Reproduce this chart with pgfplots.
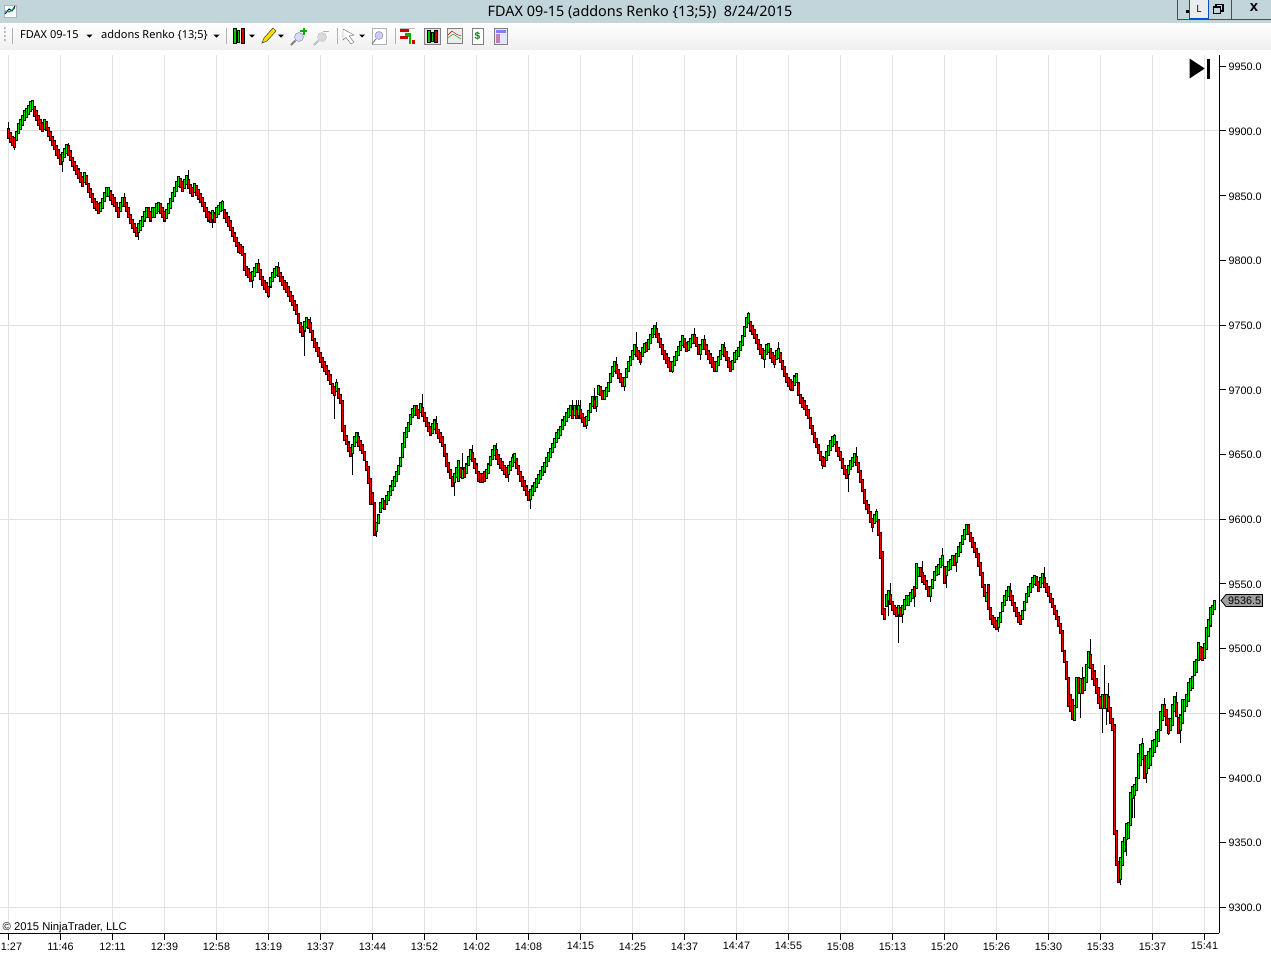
\documentclass[border=0pt]{standalone}
\usepackage{pgfplots}
\usepackage{pgfplotstable}
\usepackage{fontspec}
\pgfplotsset{compat=1.18}
\setmainfont{Liberation Sans}
\newfontfamily\uifont{Noto Sans}
\definecolor{barup}{HTML}{00E400}
\definecolor{bardown}{HTML}{F40000}
\definecolor{gridc}{HTML}{E2E2E2}
\definecolor{titlebar}{HTML}{C2D5DB}
\pgfplotstableread{
i o c
0 9901 9895
1 9898 9892
2 9895 9889
3 9894 9888
4 9893 9899
5 9899 9905
6 9902 9908
7 9905 9911
8 9909 9915
9 9911 9917
10 9913 9919
11 9916 9922
12 9917 9923
13 9918 9912
14 9915 9909
15 9911 9905
16 9908 9902
17 9906 9900
18 9902 9908
19 9907 9901
20 9902 9896
21 9899 9893
22 9895 9889
23 9892 9886
24 9888 9882
25 9885 9879
26 9881 9875
27 9877 9883
28 9880 9886
29 9883 9889
30 9888 9882
31 9884 9878
32 9879 9873
33 9876 9870
34 9873 9867
35 9870 9864
36 9867 9861
37 9864 9858
38 9861 9867
39 9865 9859
40 9859 9853
41 9855 9849
42 9851 9845
43 9847 9841
44 9845 9839
45 9843 9837
46 9838 9844
47 9841 9847
48 9846 9852
49 9850 9856
50 9850 9856
51 9853 9847
52 9850 9844
53 9848 9842
54 9844 9838
55 9840 9834
56 9838 9844
57 9842 9848
58 9848 9842
59 9844 9838
60 9840 9834
61 9835 9829
62 9831 9825
63 9828 9822
64 9825 9819
65 9822 9828
66 9824 9830
67 9827 9833
68 9831 9837
69 9834 9840
70 9840 9834
71 9837 9831
72 9834 9840
73 9834 9840
74 9837 9843
75 9838 9844
76 9843 9837
77 9840 9834
78 9837 9831
79 9833 9839
80 9837 9843
81 9841 9847
82 9846 9852
83 9850 9856
84 9854 9860
85 9858 9864
86 9863 9857
87 9860 9854
88 9856 9862
89 9859 9865
90 9862 9856
91 9858 9852
92 9856 9850
93 9853 9859
94 9857 9851
95 9854 9848
96 9851 9845
97 9848 9842
98 9844 9838
99 9840 9834
100 9837 9831
101 9836 9830
102 9832 9838
103 9836 9830
104 9834 9840
105 9836 9842
106 9838 9844
107 9839 9845
108 9839 9833
109 9836 9830
110 9833 9827
111 9830 9824
112 9825 9819
113 9821 9815
114 9817 9811
115 9813 9807
116 9812 9806
117 9810 9804
118 9805 9793
119 9795 9789
120 9793 9787
121 9790 9784
122 9785 9791
123 9788 9794
124 9791 9797
125 9797 9791
126 9792 9786
127 9787 9781
128 9784 9778
129 9782 9776
130 9779 9773
131 9780 9786
132 9784 9790
133 9787 9793
134 9789 9795
135 9794 9788
136 9790 9784
137 9787 9781
138 9784 9778
139 9782 9776
140 9779 9773
141 9775 9769
142 9772 9766
143 9768 9762
144 9765 9759
145 9758 9752
146 9751 9745
147 9748 9742
148 9746 9752
149 9749 9755
150 9754 9748
151 9751 9745
152 9745 9739
153 9739 9733
154 9736 9730
155 9732 9726
156 9728 9722
157 9724 9718
158 9721 9715
159 9718 9712
160 9714 9708
161 9711 9705
162 9704 9698
163 9702 9696
164 9699 9705
165 9700 9694
166 9696 9690
167 9691 9668
168 9672 9661
169 9664 9658
170 9659 9653
171 9655 9649
172 9651 9657
173 9657 9663
174 9660 9666
175 9663 9657
176 9660 9654
177 9657 9651
178 9652 9646
179 9644 9638
180 9640 9628
181 9631 9612
182 9620 9612
183 9612 9588
184 9591 9597
185 9597 9603
186 9606 9612
187 9609 9615
188 9614 9608
189 9612 9618
190 9615 9621
191 9619 9625
192 9623 9629
193 9626 9632
194 9630 9636
195 9635 9641
196 9641 9647
197 9648 9658
198 9656 9666
199 9664 9670
200 9668 9674
201 9674 9680
202 9679 9685
203 9681 9687
204 9687 9681
205 9684 9678
206 9683 9689
207 9686 9680
208 9682 9676
209 9678 9672
210 9674 9668
211 9671 9665
212 9667 9673
213 9670 9676
214 9673 9667
215 9669 9663
216 9666 9660
217 9663 9657
218 9657 9649
219 9650 9641
220 9643 9637
221 9638 9632
222 9632 9626
223 9629 9635
224 9633 9639
225 9630 9645
226 9639 9633
227 9632 9638
228 9639 9633
229 9636 9642
230 9642 9648
231 9647 9653
232 9651 9645
233 9646 9640
234 9642 9636
235 9636 9630
236 9635 9629
237 9635 9629
238 9636 9630
239 9632 9638
240 9636 9642
241 9642 9648
242 9647 9653
243 9650 9656
244 9653 9647
245 9649 9643
246 9646 9640
247 9644 9638
248 9641 9635
249 9639 9633
250 9635 9641
251 9638 9644
252 9641 9647
253 9644 9650
254 9646 9640
255 9641 9635
256 9636 9630
257 9632 9626
258 9629 9623
259 9625 9619
260 9621 9615
261 9616 9622
262 9619 9625
263 9622 9628
264 9625 9631
265 9628 9634
266 9631 9637
267 9634 9640
268 9637 9643
269 9641 9647
270 9645 9651
271 9648 9654
272 9652 9658
273 9656 9662
274 9660 9666
275 9663 9669
276 9665 9671
277 9670 9676
278 9673 9679
279 9676 9682
280 9679 9685
281 9681 9687
282 9684 9678
283 9681 9687
284 9684 9678
285 9681 9687
286 9684 9678
287 9681 9675
288 9678 9672
289 9673 9679
290 9677 9683
291 9683 9689
292 9688 9694
293 9692 9686
294 9688 9694
295 9697 9703
296 9702 9696
297 9699 9693
298 9693 9699
299 9695 9701
300 9699 9705
301 9706 9712
302 9711 9717
303 9715 9721
304 9719 9713
305 9715 9709
306 9712 9706
307 9709 9703
308 9703 9709
309 9710 9716
310 9715 9721
311 9719 9725
312 9724 9730
313 9728 9734
314 9732 9726
315 9730 9724
316 9728 9722
317 9726 9732
318 9729 9735
319 9736 9730
320 9732 9738
321 9736 9742
322 9741 9747
323 9743 9749
324 9747 9741
325 9743 9737
326 9739 9733
327 9734 9728
328 9730 9724
329 9727 9721
330 9724 9718
331 9721 9715
332 9715 9721
333 9719 9725
334 9723 9729
335 9727 9733
336 9731 9737
337 9735 9741
338 9739 9733
339 9736 9730
340 9731 9737
341 9733 9739
342 9736 9742
343 9742 9736
344 9740 9734
345 9734 9728
346 9728 9734
347 9732 9738
348 9738 9732
349 9734 9728
350 9730 9724
351 9727 9721
352 9724 9718
353 9721 9715
354 9715 9721
355 9719 9725
356 9724 9730
357 9728 9734
358 9732 9726
359 9729 9723
360 9724 9718
361 9721 9715
362 9716 9722
363 9722 9728
364 9724 9730
365 9726 9732
366 9731 9737
367 9735 9741
368 9742 9748
369 9749 9755
370 9752 9758
371 9752 9746
372 9749 9743
373 9746 9740
374 9742 9736
375 9738 9732
376 9734 9728
377 9731 9725
378 9724 9730
379 9728 9734
380 9729 9735
381 9731 9725
382 9728 9722
383 9726 9720
384 9724 9730
385 9725 9731
386 9728 9722
387 9722 9716
388 9717 9711
389 9712 9706
390 9709 9703
391 9707 9701
392 9706 9700
393 9704 9710
394 9706 9712
395 9705 9696
396 9696 9690
397 9693 9687
398 9691 9685
399 9687 9681
400 9684 9678
401 9678 9671
402 9672 9666
403 9666 9660
404 9662 9656
405 9657 9651
406 9652 9646
407 9648 9642
408 9647 9641
409 9646 9652
410 9650 9656
411 9654 9660
412 9657 9663
413 9658 9664
414 9659 9653
415 9655 9649
416 9652 9646
417 9646 9640
418 9641 9635
419 9638 9632
420 9635 9641
421 9639 9645
422 9641 9647
423 9644 9650
424 9648 9642
425 9643 9637
426 9637 9629
427 9630 9622
428 9622 9613
429 9614 9608
430 9611 9605
431 9605 9598
432 9600 9594
433 9597 9603
434 9599 9605
435 9599 9588
436 9589 9570
437 9574 9527
438 9530 9523
439 9533 9541
440 9538 9544
441 9541 9535
442 9536 9530
443 9533 9527
444 9531 9525
445 9527 9533
446 9531 9525
447 9527 9533
448 9531 9537
449 9534 9540
450 9534 9540
451 9537 9543
452 9539 9545
453 9547 9541
454 9547 9565
455 9556 9562
456 9562 9556
457 9558 9552
458 9556 9550
459 9552 9546
460 9547 9541
461 9541 9547
462 9547 9553
463 9553 9559
464 9557 9563
465 9558 9564
466 9563 9569
467 9565 9571
468 9563 9551
469 9557 9563
470 9561 9567
471 9562 9568
472 9565 9571
473 9571 9565
474 9567 9573
475 9572 9578
476 9575 9581
477 9581 9587
478 9585 9591
479 9589 9595
480 9595 9589
481 9589 9583
482 9585 9579
483 9581 9575
484 9577 9571
485 9573 9564
486 9566 9557
487 9558 9548
488 9549 9541
489 9537 9543
490 9549 9531
491 9531 9523
492 9525 9519
493 9523 9517
494 9521 9515
495 9517 9523
496 9521 9527
497 9529 9535
498 9534 9540
499 9538 9544
500 9541 9547
501 9544 9538
502 9540 9534
503 9535 9529
504 9531 9525
505 9527 9521
506 9525 9519
507 9523 9529
508 9530 9536
509 9536 9542
510 9541 9547
511 9544 9550
512 9548 9554
513 9550 9556
514 9555 9549
515 9551 9545
516 9548 9554
517 9551 9557
518 9554 9548
519 9550 9544
520 9547 9541
521 9542 9536
522 9538 9532
523 9533 9527
524 9529 9523
525 9524 9518
526 9519 9512
527 9513 9498
528 9498 9490
529 9489 9477
530 9477 9456
531 9464 9452
532 9460 9446
533 9445 9455
534 9455 9477
535 9477 9466
536 9466 9476
537 9476 9466
538 9468 9477
539 9474 9487
540 9486 9497
541 9495 9485
542 9487 9477
543 9482 9472
544 9476 9466
545 9469 9458
546 9462 9454
547 9454 9464
548 9464 9454
549 9454 9464
550 9462 9452
551 9454 9443
552 9445 9437
553 9441 9357
554 9359 9333
555 9335 9320
556 9322 9338
557 9333 9350
558 9344 9353
559 9353 9364
560 9354 9365
561 9364 9388
562 9385 9393
563 9387 9394
564 9391 9400
565 9400 9418
566 9410 9425
567 9415 9426
568 9417 9400
569 9404 9417
570 9408 9420
571 9410 9422
572 9417 9428
573 9420 9429
574 9425 9435
575 9429 9437
576 9437 9451
577 9445 9456
578 9456 9448
579 9452 9441
580 9445 9435
581 9437 9445
582 9441 9456
583 9452 9462
584 9458 9448
585 9446 9435
586 9437 9448
587 9443 9460
588 9452 9460
589 9456 9464
590 9460 9473
591 9468 9476
592 9470 9478
593 9480 9489
594 9482 9491
595 9491 9504
596 9501 9492
597 9500 9491
598 9493 9503
599 9500 9516
600 9510 9522
601 9518 9531
602 9527 9533
603 9531 9536.5
}\bars
\pgfplotstableread{
i l h
0 9895 9907
3 9885 9891
12 9920 9924
27 9868 9880
30 9885 9891
58 9845 9852
65 9816 9825
90 9859 9870
102 9825 9835
107 9842 9847
122 9779 9788
125 9794 9801
130 9771 9776
135 9791 9799
148 9726 9749
151 9748 9756
163 9677 9699
164 9702 9708
172 9634 9654
175 9660 9667
184 9586 9594
207 9683 9697
214 9670 9680
223 9618 9632
227 9635 9651
232 9648 9657
244 9650 9659
250 9629 9638
252 9644 9650
261 9608 9619
282 9677 9692
284 9677 9692
285 9677 9692
286 9677 9692
289 9670 9676
293 9689 9701
294 9683 9691
304 9716 9725
308 9699 9706
314 9729 9745
316 9719 9725
324 9744 9752
332 9713 9718
343 9739 9748
346 9723 9731
348 9735 9742
354 9714 9718
358 9729 9737
362 9715 9719
370 9755 9760
378 9717 9727
383 9717 9723
385 9728 9737
391 9699 9704
396 9690 9693
407 9639 9645
413 9661 9666
420 9621 9638
424 9645 9656
432 9590 9597
434 9602 9608
438 9525 9530
440 9525 9541
441 9538 9551
445 9504 9530
447 9520 9530
453 9532 9544
457 9555 9568
461 9536 9544
467 9568 9578
469 9547 9560
474 9559 9570
480 9592 9596
495 9513 9520
501 9541 9551
518 9551 9563
536 9446 9471
537 9471 9486
541 9490 9507
547 9435 9459
548 9459 9487
549 9441 9459
550 9457 9473
556 9317 9330
559 9340 9358
562 9369 9389
563 9369 9390
567 9420 9431
569 9396 9410
578 9452 9462
580 9433 9440
584 9453 9466
586 9427 9442
}\wicks
\begin{document}
\begin{tikzpicture}[x=1pt,y=1pt]
\path[use as bounding box,fill=white] (0,0) rectangle (1271,-954);
\begin{scope}[y=-1pt]
\fill[titlebar] (0,0) rectangle (1271,23.4);
\shade[top color=white,bottom color=gray!12] (0,23.4) rectangle (1271,49);
\end{scope}
\begin{axis}[
  at={(0pt,-933pt)},anchor=south west,
  scale only axis,width=1219.5pt,height=878pt,
  xmin=-4.25,xmax=605.5,ymin=9280.1,ymax=9958.7,
  axis x line=bottom,axis y line=right,
  axis line style={-,black,line width=1pt},
  tick style={black,line width=1pt},
  tick align=outside,major tick length=6.5pt,
  xtick={0,26,...,598},
  xticklabels={\hspace{6pt}1:27,11:46,12:11,12:39,12:58,13:19,13:37,13:44,13:52,14:02,14:08,14:15,14:25,14:37,14:47,14:55,15:08,15:13,15:20,15:26,15:30,15:33,15:37,15:41},
  ytick={9300,9350,...,9950},
  extra y ticks={9300,9450,9600,9750,9900},
  extra y tick labels={},
  extra y tick style={grid=major,major tick length=0pt},
  xmajorgrids,
  grid style={gridc,line width=1pt},
  y tick label style={/pgf/number format/fixed,/pgf/number format/fixed zerofill,/pgf/number format/precision=1,/pgf/number format/1000 sep={},/pgf/number format/assume math mode=true,font=\fontsize{10.8}{12}\selectfont,xshift=-1pt,yshift=-0.7pt},
  x tick label style={font=\fontsize{10.8}{12}\selectfont,yshift=0.5pt},
  clip=true,
]
\addplot[forget plot,mark=none,quiver={u=0,v={\thisrow{h}-\thisrow{l}},every arrow/.append style={-,line width=1pt,draw=black}}]
  table[x=i,y=l] {\wicks};
\addplot[forget plot,mark=none,quiver={u=0,v={abs(\thisrow{c}-\thisrow{o})+2},every arrow/.append style={-,line width=3pt,draw=black}}]
  table[x=i,y expr={min(\thisrow{o},\thisrow{c})-1}] {\bars};
\addplot[forget plot,mark=none,quiver={u=0,v={\thisrow{c}>\thisrow{o} ? \thisrow{c}-\thisrow{o}+0.4 : 0},every arrow/.append style={-,line width=1.2pt,draw=barup}}]
  table[x=i,y expr={\thisrow{o}-0.2}] {\bars};
\addplot[forget plot,mark=none,quiver={u=0,v={\thisrow{o}>\thisrow{c} ? \thisrow{o}-\thisrow{c}+0.4 : 0},every arrow/.append style={-,line width=1.2pt,draw=bardown}}]
  table[x=i,y expr={\thisrow{c}-0.2}] {\bars};
\end{axis}
\begin{scope}[y=-1pt]
% title
\node[font=\uifont\fontsize{14.4}{16}\selectfont,anchor=center] at (640,12.3) {FDAX 09-15 (addons Renko \{13;5\})\ \ 8/24/2015};
% app icon
\draw[gray!60,fill=white] (4,5) rectangle (16,17);
\draw[blue!70!black,line width=1pt] (5,14)--(9,9)--(12,11)--(15,6);
\draw[green!60!black,line width=1pt] (5,11)--(9,12)--(15,8);
% window buttons
\draw[black!70,line width=1pt] (1177,0)--(1177,19)--(1271,19);
\draw[black!70,line width=1pt] (1231.5,0)--(1231.5,19);
\fill[black] (1186,10)rectangle(1189,13);
\draw[blue!60!cyan!80!black,fill=gray!15,line width=1pt] (1189.5,-1) rectangle (1208.5,18.5);
\node[font=\uifont\fontsize{10}{12}\selectfont,text=blue!50!black] at (1199,9) {L};
\draw[black,line width=1.5pt] (1216,4.5) rectangle (1223,11);
\draw[black,fill=titlebar,line width=1.5pt] (1213.5,7) rectangle (1220.5,13.5);
\node[font=\bfseries\fontsize{15}{16}\selectfont] at (1254,8) {x};
% toolbar
\fill[gray!60] (4,27) rectangle (5.5,29) (4,31) rectangle (5.5,33) (4,35) rectangle (5.5,37) (4,39) rectangle (5.5,41);
\draw[gray!60] (12.5,28)--(12.5,44) (226.5,28)--(226.5,44) (337,28)--(337,44) (395,28)--(395,44);
\node[font=\uifont\fontsize{11}{12}\selectfont,anchor=west,inner sep=0pt] at (20,35) {FDAX 09-15};
\node[font=\uifont\fontsize{11}{12}\selectfont,anchor=west,inner sep=0pt] at (101,35) {addons Renko \{13;5\}};
\foreach \ax in {89.5,216.5,252,281,362}{\fill[black] (\ax-3,34.5)--(\ax+3,34.5)--(\ax,37.5)--cycle;}
\draw[black,fill=green!80!black] (233,28.5) rectangle (236.5,43);
\draw[black,fill=green!80!black] (237.5,30) rectangle (239.5,42);
\draw[black,fill=red!85!black] (241,28.5) rectangle (244.5,43);
\draw[black!70,fill=yellow!80!orange,line width=.6pt] (262,43)--(264,38)--(273,28)--(276,31)--(267,41)--cycle;
\draw[gray,fill=blue!15] (299,37) circle (4.5pt);\draw[gray,line width=1.8pt] (295.5,40.5)--(291,45);
\draw[green!70!black,line width=2pt] (300,31)--(307,31) (303.5,27.5)--(303.5,34.5);
\draw[gray!50,fill=gray!30] (322,37) circle (4.5pt);\draw[gray!50,line width=1.8pt] (318.5,40.5)--(314,45);
\draw[gray!60,line width=1pt] (323,31)--(329,31);
\draw[black!60,fill=white] (343,29)--(343,40)--(346,37.5)--(351,44)--(354,42)--(349,36)--(354,35)--cycle;
\draw[gray!60,fill=white] (372.5,28.5) rectangle (386,44);\draw[gray,fill=blue!20] (379,35.5) circle (4pt);\draw[gray,line width=1pt] (376,39)--(372,44);
\draw[gray!50] (400,28)--(415,28);
\fill[red!80!black] (400,29) rectangle (409,32);\fill[green!70!black] (405,33) rectangle (411,37);\fill[red!80!black] (400,36) rectangle (408,39);
\fill[green!70!black] (409,37) rectangle (411,44);\fill[red!80!black] (412,40) rectangle (415,44);
\draw[gray,fill=gray!20] (424.5,28) rectangle (440,44);
\draw[black,fill=green!80!black] (427,30) rectangle (430,42);\draw[black,fill=green!80!black] (431,32) rectangle (433,41);\draw[black,fill=red!80!black] (434.5,30) rectangle (437.5,42);
\draw[gray,fill=gray!15] (447,28.5) rectangle (462,43);
\draw[red!70!black] (448,35)--(452,31)--(456,34)--(461,36);\draw[green!60!black] (448,38)--(453,34)--(461,39);
\draw[gray,fill=white] (472,28.5) rectangle (483,44);
\node[font=\bfseries\fontsize{10}{10}\selectfont,text=green!50!black] at (477.5,36.5) {\$};
\draw[gray,fill=blue!10] (494.5,28.5) rectangle (507,44);
\fill[blue!50] (495.5,29.5) rectangle (506,32.5);\fill[violet!50] (495.5,34) rectangle (499.5,43);
% go-to-end icon
\fill[black] (1189.5,58.5)--(1189.5,78.5)--(1204.7,68.5)--cycle;
\fill[black] (1206.8,58.5) rectangle (1209.8,78.5);
% copyright
\node[font=\fontsize{11.25}{12}\selectfont,anchor=west,inner sep=0pt] at (2.5,927.5) {\textcopyright\ 2015 NinjaTrader, LLC};
% current price
\draw[black,fill=gray!75,line width=.8pt] (1221,600.5)--(1226,594.5)--(1262.5,594.5)--(1262.5,606.5)--(1226,606.5)--cycle;
\node[font=\fontsize{10.8}{12}\selectfont,anchor=west,inner sep=0pt] at (1228,600.5) {9536.5};
\end{scope}
\end{tikzpicture}
\end{document}
